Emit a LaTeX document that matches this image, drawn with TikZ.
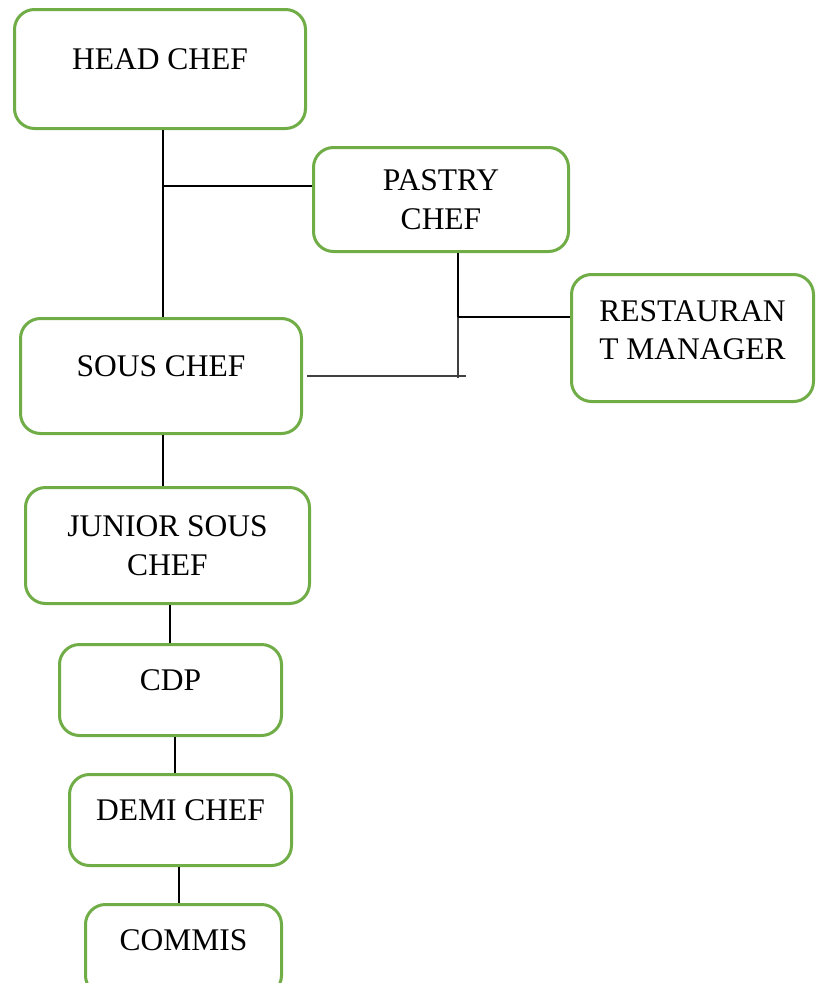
\documentclass[tikz,border=0pt]{standalone}
\usepackage{fontspec}
\setmainfont{Liberation Serif}
\usepackage{tikz}
\usetikzlibrary{calc}
\definecolor{boxgreen}{RGB}{112,173,71}
\newcommand{\chartfont}{\fontsize{31.5}{38.5}\selectfont}

\begin{document}
\begin{tikzpicture}[x=1pt,y=-1pt,
    post/.style={draw=boxgreen,line width=3pt,rounded corners=20pt,fill=white,
      font=\chartfont,align=center,inner sep=0pt},
    oneline/.style={text height=21pt,text depth=20pt},
    link/.style={line width=2pt,black},
    thinlink/.style={line width=1.3pt,black}]
  \useasboundingbox (0,0) rectangle (819,983);
  % posts
  \node[post,oneline,minimum width=291,minimum height=119] (head) at (160,69) {HEAD CHEF};
  \node[post,minimum width=255,minimum height=104] (pastry) at (441,199.5) {PASTRY\\CHEF};
  \node[post,text height=43.5pt,text depth=0pt,minimum width=242,minimum height=127] (rest) at (692.5,338) {RESTAURAN\\T MANAGER};
  \node[post,oneline,minimum width=281,minimum height=115] (sous) at (161,376) {SOUS CHEF};
  \node[post,minimum width=284,minimum height=116] (junior) at (167.5,545.5) {JUNIOR SOUS\\CHEF};
  \node[post,oneline,minimum width=222,minimum height=91] (cdp) at (170.5,690) {CDP};
  \node[post,oneline,minimum width=222,minimum height=91] (demi) at (180.5,820) {DEMI CHEF};
  \node[post,oneline,minimum width=196,minimum height=91] (commis) at (183.5,950) {COMMIS};
  % upper branches
  \coordinate (top) at ([xshift=3pt]head.south);
  \coordinate (j1) at ($(top)!0.3!(top |- sous.north)$);
  \draw[link] (top) -- (top |- sous.north);
  \draw[link] (j1) -- (j1 -| pastry.west);
  \coordinate (p) at ([xshift=17pt]pastry.south);
  \coordinate (j2) at ($(p)!0.52!(p |- sous.east)$);
  \draw[link] (p) -- (j2);
  \draw[line width=1.5pt,black!75] (j2) -- ([yshift=-2pt]p |- sous.east);
  \draw[thinlink] (j2) -- (j2 -| rest.west);
  \draw[line width=1.5pt,black!75] ([xshift=4pt]sous.east) -- ([xshift=8pt]p |- sous.east);
  % lower chain
  \draw[link] ([xshift=2pt]sous.south) -- ([xshift=2pt]sous.south |- junior.north);
  \draw[thinlink] ([xshift=-0.5pt]cdp.north) -- ([xshift=-0.5pt]cdp.north |- junior.south);
  \draw[thinlink] ([xshift=4.5pt]cdp.south) -- ([xshift=4.5pt]cdp.south |- demi.north);
  \draw[thinlink] ([xshift=-1.5pt]demi.south) -- ([xshift=-1.5pt]demi.south |- commis.north);
\end{tikzpicture}
\end{document}
